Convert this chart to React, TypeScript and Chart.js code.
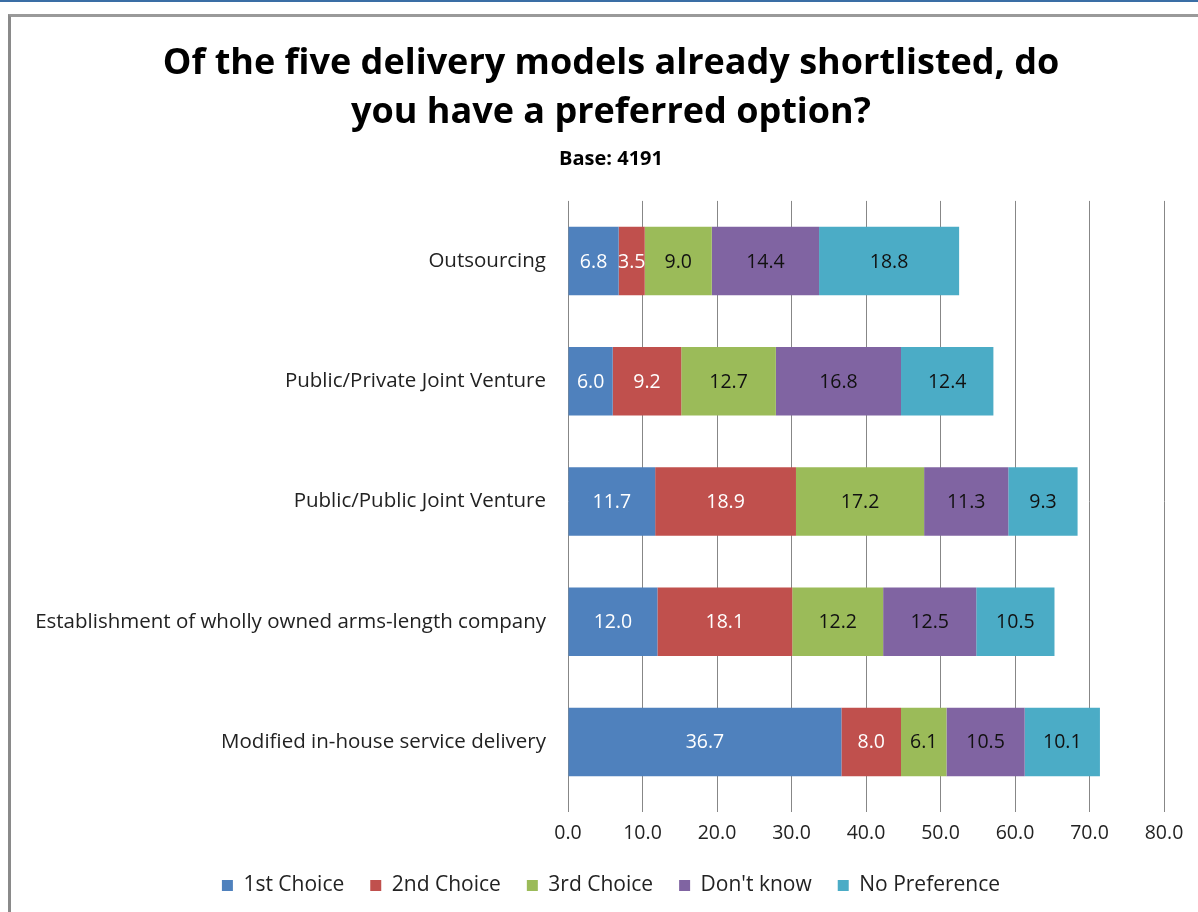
import React, { useEffect, useRef } from "react";
import { Chart, registerables } from "chart.js";

Chart.register(...registerables);

const categories = [
  "Outsourcing",
  "Public/Private Joint Venture",
  "Public/Public Joint Venture",
  "Establishment of wholly owned arms-length company",
  "Modified in-house service delivery",
];
const seriesNames = ["1st Choice", "2nd Choice", "3rd Choice", "Don't know", "No Preference"];
const firstChoice = [6.8, 6.0, 11.7, 12.0, 36.7];
const secondChoice = [3.5, 9.2, 18.9, 18.1, 8.0];
const thirdChoice = [9.0, 12.7, 17.2, 12.2, 6.1];
const dontKnow = [14.4, 16.8, 11.3, 12.5, 10.5];
const noPreference = [18.8, 12.4, 9.3, 10.5, 10.1];
const xTicks = [0, 10, 20, 30, 40, 50, 60, 70, 80];
const colors = ["#4F81BD", "#C0504D", "#9BBB59", "#8064A2", "#4BACC6"];
const labelColors = ["#FFFFFF", "#FFFFFF", "#111111", "#111111", "#111111"];

const FONT = "'Open Sans', 'DejaVu Sans', sans-serif";

const valueLabels = {
  id: "valueLabels",
  afterDatasetsDraw(chart: any) {
    const ctx = chart.ctx;
    ctx.save();
    ctx.font = `19.5px ${FONT}`;
    ctx.textAlign = "center";
    ctx.textBaseline = "middle";
    chart.data.datasets.forEach((ds: any, i: number) => {
      const meta = chart.getDatasetMeta(i);
      meta.data.forEach((bar: any, j: number) => {
        const v = ds.data[j];
        const cx = (bar.x + bar.base) / 2;
        ctx.fillStyle = labelColors[i];
        ctx.fillText(v.toFixed(1), cx, bar.y + 1);
      });
    });
    ctx.restore();
  },
};

export default function App() {
  const ref = useRef<HTMLCanvasElement>(null);
  useEffect(() => {
    const data = [firstChoice, secondChoice, thirdChoice, dontKnow, noPreference];
    const chart = new Chart(ref.current!, {
      type: "bar",
      data: {
        labels: categories,
        datasets: data.map((d, i) => ({
          label: seriesNames[i],
          data: d,
          backgroundColor: colors[i],
          borderWidth: 0,
          categoryPercentage: 1,
          barPercentage: 0.57,
        })),
      },
      plugins: [valueLabels],
      options: {
        indexAxis: "y",
        animation: false,
        responsive: false,
        maintainAspectRatio: false,
        layout: { padding: { top: 22, left: 0, right: 0, bottom: 6 } },
        plugins: {
          title: {
            display: true,
            text: ["Of the five delivery models already shortlisted, do", "you have a preferred option?"],
            font: { family: FONT, size: 36, weight: "bold", lineHeight: 1.36 },
            color: "#000",
            padding: { top: 0, bottom: 10 },
          },
          subtitle: {
            display: true,
            text: "Base: 4191",
            font: { family: FONT, size: 20, weight: "bold", lineHeight: 1.2 },
            color: "#000",
            padding: { top: 0, bottom: 30 },
          },
          legend: {
            position: "bottom",
            labels: {
              font: { family: FONT, size: 21 },
              color: "#222",
              boxWidth: 11,
              boxHeight: 11,
              padding: 26,
            },
          },
          tooltip: { enabled: false },
        },
        scales: {
          x: {
            stacked: true,
            min: xTicks[0],
            max: xTicks[xTicks.length - 1],
            afterBuildTicks: (s: any) => {
              s.ticks = xTicks.map((v) => ({ value: v }));
            },
            afterFit: (s: any) => {
              s.height = 47;
            },
            ticks: {
              callback: (v: any) => Number(v).toFixed(1),
              font: { family: FONT, size: 19.5 },
              color: "#222",
              padding: 10,
              maxRotation: 0,
            },
            grid: { color: "#878787", lineWidth: 1, drawTicks: true, tickLength: 10 },
            border: { display: false },
          },
          y: {
            stacked: true,
            ticks: { font: { family: FONT, size: 20.5 }, color: "#222", padding: 14 },
            grid: { display: false },
            border: { display: false },
            afterFit: (s: any) => {
              s.width = 557;
            },
          },
          yRight: {
            type: "category",
            axis: "y",
            position: "right",
            labels: categories,
            ticks: { display: false },
            grid: { display: false },
            border: { display: false },
            afterFit: (s: any) => {
              s.width = 47;
            },
          },
        },
      },
    });
    return () => chart.destroy();
  }, []);
  return (
    <div style={{ position: "fixed", left: 0, top: 0, width: 1198, height: 912, overflow: "hidden", background: "#fff" }}>
      <div style={{ position: "absolute", left: 0, top: 0, width: 1198, height: 2, background: "#3A6EA5" }} />
      <div
        style={{
          position: "absolute",
          left: 8,
          top: 14,
          width: 1220,
          height: 920,
          borderLeft: "3px solid #8A8A8A",
          borderTop: "3px solid #9A9A9A",
        }}
      >
        <canvas ref={ref} width={1200} height={895} style={{ display: "block" }} />
      </div>
    </div>
  );
}
